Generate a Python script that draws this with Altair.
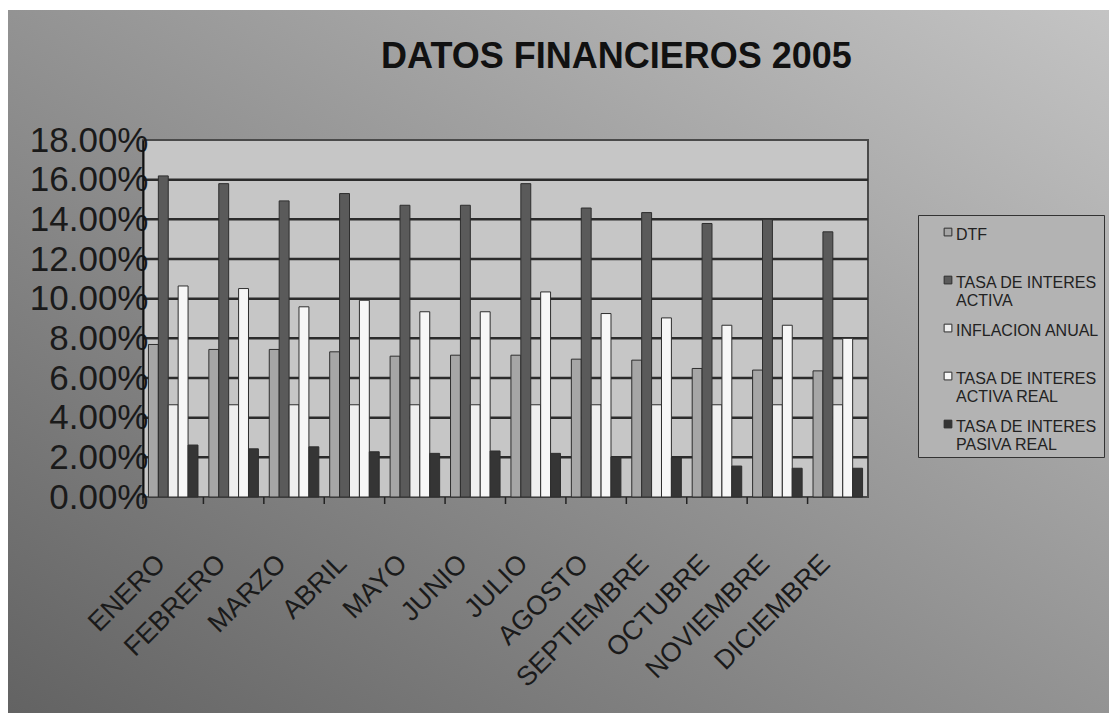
import altair as alt
import pandas as pd

meses = ["ENERO", "FEBRERO", "MARZO", "ABRIL", "MAYO", "JUNIO", "JULIO",
         "AGOSTO", "SEPTIEMBRE", "OCTUBRE", "NOVIEMBRE", "DICIEMBRE"]
series = ["DTF", "TASA DE INTERES ACTIVA", "INFLACION ANUAL",
          "TASA DE INTERES ACTIVA REAL", "TASA DE INTERES PASIVA REAL"]

# values in percent
dtf = [7.69, 7.44, 7.44, 7.32, 7.10, 7.15, 7.15, 6.95, 6.90, 6.48, 6.40, 6.36]
activa = [16.19, 15.80, 14.93, 15.30, 14.71, 14.71, 15.80, 14.57, 14.34, 13.79, 14.00, 13.37]
inflacion = [4.65, 4.65, 4.65, 4.65, 4.65, 4.65, 4.65, 4.65, 4.65, 4.65, 4.65, 4.65]
activa_real = [10.64, 10.51, 9.59, 9.92, 9.34, 9.34, 10.34, 9.25, 9.03, 8.66, 8.66, 8.00]
pasiva_real = [2.62, 2.43, 2.53, 2.28, 2.20, 2.32, 2.20, 2.03, 1.98, 1.56, 1.45, 1.45]

ticks_y = [0.0, 0.02, 0.04, 0.06, 0.08, 0.10, 0.12, 0.14, 0.16, 0.18]
colores = ["#a6a6a6", "#5a5a5a", "#efefef", "#f7f7f7", "#353535"]

rows = []
for i, m in enumerate(meses):
    for s, vals in zip(series, [dtf, activa, inflacion, activa_real, pasiva_real]):
        rows.append({"mes": m, "serie": s, "valor": vals[i] / 100})
df = pd.DataFrame(rows)

W, H = 725, 357
FONT = "Liberation Sans"

x_axis = alt.Axis(title=None, labelAngle=-45, labelAlign="right", labelBaseline="middle",
                  labelFontSize=27, labelFont=FONT, labelColor="#1a1a1a", labelPadding=62,
                  labelOffset=-12, ticks=False, tickSize=0, domain=False, labelLimit=400,
                  grid=False, zindex=2)
x_scale = alt.Scale(paddingInner=0.18, paddingOuter=0.09)
y_axis = alt.Axis(title=None, values=ticks_y, format=".2%", labelFontSize=35, labelFont=FONT,
                  labelColor="#1a1a1a", grid=False, ticks=False, tickSize=0, domain=True,
                  domainColor="#111111", domainWidth=2, labelPadding=-5, zindex=2)
y_scale = alt.Scale(domain=[0, 0.18], nice=False)

bg = alt.Chart(alt.Data(values=[{}])).mark_rect(
    fill={"gradient": "linear", "x1": 0, "y1": 1, "x2": 1, "y2": 0,
          "stops": [{"offset": 0, "color": "#626262"}, {"offset": 1, "color": "#c4c4c4"}]}
).encode(x=alt.value(-135), x2=alt.value(974), y=alt.value(-130), y2=alt.value(583))

plot_bg = alt.Chart(alt.Data(values=[{}])).mark_rect(
    fill="#c6c6c6", stroke="#4a4a4a", strokeWidth=2
).encode(x=alt.value(0), x2=alt.value(W), y=alt.value(0), y2=alt.value(H))

grid = alt.Chart(pd.DataFrame({"v": ticks_y[1:-1]})).mark_rule(
    color="#2b2b2b", strokeWidth=2.5
).encode(y=alt.Y("v:Q", scale=y_scale, axis=y_axis))

bars = alt.Chart(df).mark_bar(stroke="#2e2e2e", strokeWidth=1).encode(
    x=alt.X("mes:N", sort=meses, scale=x_scale, axis=x_axis),
    xOffset=alt.XOffset("serie:N", sort=series,
                        scale=alt.Scale(domain=series, paddingInner=0, paddingOuter=0)),
    y=alt.Y("valor:Q", scale=y_scale, axis=y_axis),
    color=alt.Color("serie:N", sort=series,
                    scale=alt.Scale(domain=series, range=colores),
                    legend=alt.Legend(
                        title=None, orient="none", legendX=775, legendY=75,
                        direction="vertical", fillColor="#b3b3b3", strokeColor="#333333",
                        padding=4, symbolType="M-1,0.3L1,0.3L1,2.3L-1,2.3Z", symbolSize=60,
                        symbolStrokeColor="#2e2e2e", symbolStrokeWidth=1, symbolOffset=18,
                        labelFont=FONT, labelFontSize=16, labelColor="#222222",
                        labelBaseline="top", labelOffset=0, gridAlign="all", rowPadding=6,
                        labelLimit=400,
                        labelExpr="split(replace(datum.label, 'INTERES ', 'INTERES|'), '|')")),
)

xticks = alt.Chart(pd.DataFrame({"mes": meses})).mark_rule(
    color="#222222", strokeWidth=1.5, xOffset=-W / 24
).encode(x=alt.X("mes:N", sort=meses, scale=x_scale, axis=x_axis),
         y=alt.value(H), y2=alt.value(H + 7))

chart = alt.layer(bg, plot_bg, grid, bars, xticks).properties(
    width=W, height=H,
    autosize=alt.AutoSizeParams(type="none"),
    padding={"left": 135, "top": 132, "right": 241, "bottom": 216},
    title=alt.TitleParams("DATOS FINANCIEROS 2005", font=FONT, fontSize=36, fontWeight="bold",
                          color="#111111", anchor="middle", frame="group", dx=111, offset=-66),
).configure_view(stroke=None).configure(background="#ffffff")

chart.save("out.html", embed_options={"renderer": "svg", "actions": False})
